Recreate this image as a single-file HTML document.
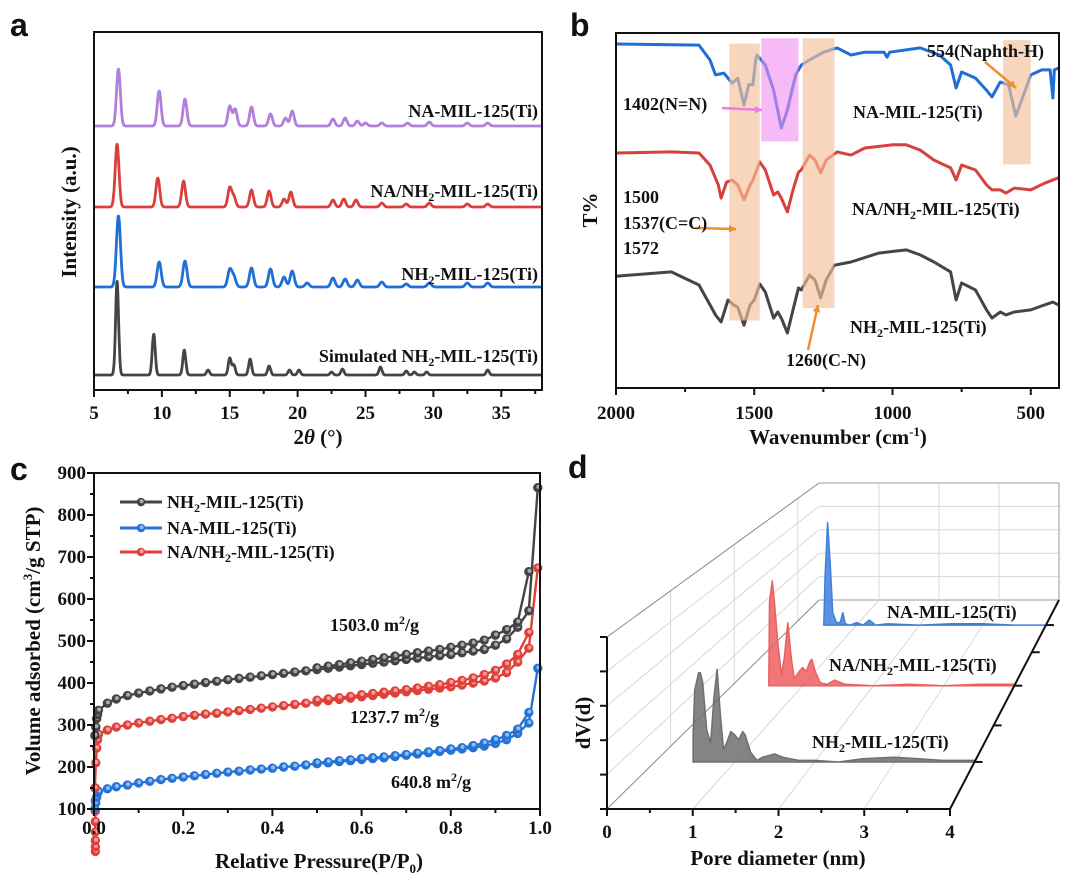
<!DOCTYPE html>
<html><head><meta charset="utf-8"><style>
html,body{margin:0;padding:0;background:#fff}
svg{display:block}
text{font-family:"Liberation Serif",serif;font-weight:bold;fill:#111}
.pl{font-family:"Liberation Sans",sans-serif;font-size:32px;font-weight:bold}
.tk{font-size:19px}
.ti{font-size:21px}
.lb{font-size:18px}
</style></head><body>
<svg id="fig" width="1080" height="878" viewBox="0 0 1080 878" xmlns="http://www.w3.org/2000/svg">
<text class="pl" x="10" y="36">a</text>
<text class="pl" x="570" y="36">b</text>
<text class="pl" x="10" y="480">c</text>
<text class="pl" x="568" y="478">d</text>
<g id="pa"></g>
<g id="pb"></g>
<g id="pc"></g>
<g id="pd"></g>
<text class="ti" transform="translate(76,212) rotate(-90)" text-anchor="middle">Intensity (a.u.)</text>
<text class="ti" x="318" y="444" text-anchor="middle">2<tspan font-style="italic">θ</tspan> (°)</text>
<text class="lb" x="538" y="117" text-anchor="end">NA-MIL-125(Ti)</text>
<text class="lb" x="538" y="197" text-anchor="end">NA/NH<tspan font-size="12" dy="4">2</tspan><tspan dy="-4">-MIL-125(Ti)</tspan></text>
<text class="lb" x="538" y="280" text-anchor="end">NH<tspan font-size="12" dy="4">2</tspan><tspan dy="-4">-MIL-125(Ti)</tspan></text>
<text class="lb" x="538" y="362" text-anchor="end">Simulated NH<tspan font-size="12" dy="4">2</tspan><tspan dy="-4">-MIL-125(Ti)</tspan></text>
<text class="ti" transform="translate(597,210) rotate(-90)" text-anchor="middle">T%</text>
<text class="ti" x="838" y="444" text-anchor="middle">Wavenumber (cm<tspan font-size="13" dy="-8">-1</tspan><tspan dy="8">)</tspan></text>
<text class="lb" x="927" y="57">554(Naphth-H)</text>
<text class="lb" x="623" y="110">1402(N=N)</text>
<text class="lb" x="853" y="118">NA-MIL-125(Ti)</text>
<text class="lb" x="852" y="215">NA/NH<tspan font-size="12" dy="4">2</tspan><tspan dy="-4">-MIL-125(Ti)</tspan></text>
<text class="lb" x="623" y="203">1500</text>
<text class="lb" x="623" y="229">1537(C=C)</text>
<text class="lb" x="623" y="254">1572</text>
<text class="lb" x="850" y="333">NH<tspan font-size="12" dy="4">2</tspan><tspan dy="-4">-MIL-125(Ti)</tspan></text>
<text class="lb" x="786" y="366">1260(C-N)</text>
<text class="ti" transform="translate(40,641) rotate(-90)" text-anchor="middle">Volume adsorbed (cm<tspan font-size="13" dy="-8">3</tspan><tspan dy="8">/g STP)</tspan></text>
<text class="ti" x="319" y="868" text-anchor="middle">Relative Pressure(P/P<tspan font-size="13" dy="5">0</tspan><tspan dy="-5">)</tspan></text>
<text class="lb" x="330" y="631">1503.0 m<tspan font-size="12" dy="-7">2</tspan><tspan dy="7">/g</tspan></text>
<text class="lb" x="350" y="723">1237.7 m<tspan font-size="12" dy="-7">2</tspan><tspan dy="7">/g</tspan></text>
<text class="lb" x="391" y="788">640.8 m<tspan font-size="12" dy="-7">2</tspan><tspan dy="7">/g</tspan></text>
<text class="lb" x="167" y="508">NH<tspan font-size="12" dy="4">2</tspan><tspan dy="-4">-MIL-125(Ti)</tspan></text>
<text class="lb" x="167" y="534">NA-MIL-125(Ti)</text>
<text class="lb" x="167" y="558">NA/NH<tspan font-size="12" dy="4">2</tspan><tspan dy="-4">-MIL-125(Ti)</tspan></text>
<text class="ti" transform="translate(590,723) rotate(-90)" text-anchor="middle">dV(d)</text>
<text class="ti" x="778" y="865" text-anchor="middle">Pore diameter (nm)</text>
<text class="lb" x="887" y="618">NA-MIL-125(Ti)</text>
<text class="lb" x="829" y="671">NA/NH<tspan font-size="12" dy="4">2</tspan><tspan dy="-4">-MIL-125(Ti)</tspan></text>
<text class="lb" x="812" y="748">NH<tspan font-size="12" dy="4">2</tspan><tspan dy="-4">-MIL-125(Ti)</tspan></text>
</svg>
<script>
// ---------- Panel a data (XRD peaks: position, height) ----------
const aPurplePos=[6.8,9.8,11.7,15.0,15.4,16.6,18.0,19.1,19.6,22.6,23.5,24.4,25.0,26.2,28.1,29.7,32.5,34.0];
const aPurpleH=[57,35,27,20,17,19,12,8,15,7,8,5,3,3,3,4,3,3];
const aRedPos=[6.7,9.7,11.6,15.0,15.3,16.6,17.9,19.0,19.5,22.6,23.4,24.3,26.2,28.0,29.7,32.5,34.0];
const aRedH=[63,29,26,19,10,17,16,8,15,7,8,7,4,3,4,3,3];
const aBluePos=[6.8,9.8,11.7,15.0,15.3,16.6,18.0,19.0,19.6,20.7,22.6,23.5,24.4,26.2,28.0,29.7,32.5,34.0];
const aBlueH=[71,25,26,17,10,19,18,10,16,4,9,8,7,5,3,4,4,4];
const aBlackPos=[6.7,9.4,11.65,13.4,15.0,15.3,16.5,17.9,19.4,20.1,22.5,23.3,26.1,28.0,28.6,29.5,34.0];
const aBlackH=[94,41,25,5,17,10,16,9,5,5,3,6,8,4,3,3,5];
const aTicks=[5,10,15,20,25,30,35];
// ---------- Panel b data (wavenumber, T%) ----------
const bBlueW=[2000,1700,1660,1640,1610,1580,1560,1537,1520,1505,1495,1490,1460,1430,1402,1380,1350,1330,1300,1250,1200,1150,1100,1030,1020,1010,900,830,790,770,750,700,660,640,610,580,554,520,500,460,430,420,415,400];
const bBlueT=[96.9,96.6,92.4,88.2,88.7,85.9,87.3,79.7,85.4,85.4,92.4,93.8,91.0,83.9,73.2,78.3,88.2,91.0,92.4,94.6,95.8,93.8,94.6,94.6,93.2,94.6,95.8,93.8,91.0,84.5,89.0,87.3,83.9,82.0,86.2,85.4,76.6,83.9,88.2,89.6,89.6,81.7,89.6,90.1];
const bRedW=[2000,1800,1700,1660,1630,1620,1600,1580,1560,1537,1515,1505,1480,1460,1430,1415,1402,1380,1360,1340,1330,1300,1280,1260,1240,1200,1150,1100,1000,950,900,850,790,770,750,700,660,640,610,590,560,500,450,400];
const bRedT=[66.2,66.5,66.2,62.8,57.2,53.5,58.0,58.6,57.2,53.0,57.2,58.6,63.7,61.4,54.4,55.2,53.5,49.6,55.8,60.8,61.4,65.6,64.2,60.6,64.2,66.5,65.6,67.6,68.5,68.5,67.0,64.2,62.0,58.6,62.8,61.4,57.2,55.8,55.8,54.9,56.3,55.8,57.7,59.2];
const bBlackW=[2000,1800,1700,1660,1640,1620,1595,1575,1560,1537,1515,1500,1480,1460,1430,1415,1402,1380,1360,1340,1330,1300,1280,1260,1240,1210,1150,1050,950,900,850,790,770,750,700,660,640,610,590,560,500,450,420,400];
const bBlackT=[31.5,32.7,29.0,23.4,20.6,18.6,24.8,23.4,22.8,17.7,23.4,24.8,29.3,27.0,19.7,21.4,19.7,15.5,22.0,28.2,27.6,31.8,30.4,25.4,30.4,34.6,35.5,38.0,38.9,37.5,35.5,32.7,24.8,29.6,27.6,22.0,19.7,21.4,20.6,21.4,22.0,23.4,24.2,23.4];
const bTicks=[2000,1500,1000,500];
const bBandFrom=[1590,1325,600,1475];
const bBandTo=[1480,1210,500,1340];
const bBandTop=[97,98.5,98,98.5];
const bBandBot=[19,22.5,63,69.5];
// ---------- Panel c data ----------
const cP=[0.002,0.004,0.006,0.008,0.01,0.03,0.05,0.075,0.1,0.125,0.15,0.175,0.2,0.225,0.25,0.275,0.3,0.325,0.35,0.375,0.4,0.425,0.45,0.475,0.5,0.525,0.55,0.575,0.6,0.625,0.65,0.675,0.7,0.725,0.75,0.775,0.8,0.825,0.85,0.875,0.9,0.925,0.95,0.975,0.995];
const cBlackAds=[275,295,315,325,335,352,362,370,376,381,386,390,394,397,401,404,408,411,414,417,420,423,426,429,432,435,438,441,444,447,450,453,456,459,462,465,468,472,476,480,490,505,533,572,865];
const cBlueAds=[100,115,128,138,142,148,153,157,162,166,170,173,176,179,182,185,188,190,193,195,197,200,202,205,208,210,213,215,218,220,222,225,228,231,234,237,240,243,246,250,256,265,280,305,435];
const cRedAds=[150,210,245,265,278,288,295,300,305,309,313,316,320,323,326,328,331,334,337,340,343,346,349,352,355,358,361,364,367,370,373,376,379,382,385,388,391,395,400,405,412,425,450,483,674];
const cRedLowP=[0.003,0.003,0.003,0.003,0.003,0.003,0.003,0.003];
const cRedLow=[-1,10,25,45,70,95,120,150];
const cDesP=[0.975,0.95,0.925,0.9,0.875,0.85,0.825,0.8,0.775,0.75,0.725,0.7,0.675,0.65,0.625,0.6,0.575,0.55,0.525,0.5];
const cBlackDes=[665,545,527,514,502,495,490,485,480,476,472,468,464,460,456,452,448,444,440,436];
const cBlueDes=[330,290,275,265,257,251,246,243,239,236,233,230,227,224,222,220,217,215,212,210];
const cRedDes=[520,468,445,430,420,412,406,401,396,392,388,384,381,378,375,372,368,365,362,359];
const cXTicks=[0,0.2,0.4,0.6,0.8,1.0];
const cXTickLabels=["0.0","0.2","0.4","0.6","0.8","1.0"];
const cYTicks=[100,200,300,400,500,600,700,800,900];
// ---------- Panel d data (pore diameter nm, dV normalized) ----------
const dGrayX=[0.48,0.5,0.55,0.57,0.6,0.65,0.7,0.74,0.78,0.82,0.86,0.9,0.95,1.0,1.05,1.1,1.13,1.2,1.28,1.35,1.5,1.6,1.7,1.8,2.0,2.3,2.6,3.0,3.3,3.6,4.0];
const dGrayY=[0.17,0.45,0.56,0.56,0.5,0.2,0.12,0.4,0.58,0.3,0.08,0.12,0.19,0.17,0.14,0.19,0.17,0.06,0.01,0.03,0.05,0.03,0.02,0.01,0.01,0.0,0.02,0.03,0.02,0.01,0.01];
const dRedX=[0.52,0.53,0.57,0.6,0.65,0.7,0.74,0.79,0.84,0.88,0.95,1.0,1.05,1.1,1.13,1.18,1.25,1.35,1.45,1.6,2.0,2.5,3.0,3.5,4.0];
const dRedY=[0,0.6,0.75,0.6,0.3,0.08,0.2,0.45,0.2,0.05,0.1,0.13,0.1,0.17,0.19,0.1,0.02,0.01,0.04,0.01,0.0,0.01,0.0,0.01,0.01];
const dBlueX=[0.48,0.5,0.54,0.58,0.62,0.68,0.74,0.78,0.82,0.9,1.0,1.1,1.2,1.3,1.5,2.0,2.5,3.0,3.5,4.0];
const dBlueY=[0,0.4,0.83,0.5,0.1,0.02,0.02,0.1,0.01,0.0,0.02,0.0,0.04,0.0,0.01,0.0,0.01,0.01,0.0,0.0];
const dDepth=[0.225,0.59,0.88];
const dXTicks=[0,1,2,3,4];

const NS="http://www.w3.org/2000/svg";
function mk(parent,tag,name,attrs){
  const el=document.createElementNS(NS,tag);
  
  
  for(const k in attrs) el.setAttribute(k,attrs[k]);
  parent.appendChild(el);return el;
}
function txt(parent,name,x,y,s,anchor){
  const t=mk(parent,'text',name,{x:x,y:y,'class':'tk','text-anchor':anchor||'middle'});
  t.textContent=s;return t;
}
// ===== Panel a =====
const pa=document.getElementById('pa');
const xA=v=>94+(v-5)*(448/33);
const aSeries=[[aPurplePos,aPurpleH,126,'#b27fdb',0.14,'a-curve-na'],[aRedPos,aRedH,207,'#d9403c',0.14,'a-curve-na-nh2'],[aBluePos,aBlueH,287,'#1f6fd6',0.15,'a-curve-nh2'],[aBlackPos,aBlackH,375,'#444',0.11,'a-curve-simulated']];
aSeries.forEach(s=>{
  let d='';
  for(let x=5;x<=38.001;x+=0.03){
    let y=s[2];
    for(let i=0;i<s[0].length;i++){const dx=(x-s[0][i])/s[4];y-=s[1][i]*Math.exp(-0.5*dx*dx);}
    d+=(d?'L':'M')+xA(x).toFixed(1)+','+y.toFixed(1);
  }
  mk(pa,'path',s[5],{d:d,fill:'none',stroke:s[3],'stroke-width':2.8,'stroke-linejoin':'round'});
});
mk(pa,'rect','a-plot-frame',{x:94,y:32,width:448,height:358,fill:'none',stroke:'#111','stroke-width':2});
for(let v=5;v<=38;v+=2.5){mk(pa,'line','a-x-tick',{x1:xA(v),x2:xA(v),y1:390,y2:aTicks.includes(v)?397:394,stroke:'#111','stroke-width':2});}
aTicks.forEach(v=>txt(pa,'a-x-tick-label',xA(v),419,String(v)));
// ===== Panel b =====
const pb=document.getElementById('pb');
const xB=w=>616+(2000-w)*0.2765;
const yB=t=>33+(100-t)*3.55;
[[bBlueW,bBlueT,'#1f6fd6','b-curve-na'],[bRedW,bRedT,'#d9403c','b-curve-na-nh2'],[bBlackW,bBlackT,'#454545','b-curve-nh2']].forEach(s=>{
  let d='';s[0].forEach((w,i)=>{d+=(i?'L':'M')+xB(w).toFixed(1)+','+yB(s[1][i]).toFixed(1);});
  mk(pb,'path',s[3],{d:d,fill:'none',stroke:s[2],'stroke-width':3,'stroke-linejoin':'round'});
});
bBandFrom.forEach((f,i)=>{
  mk(pb,'rect',i==3?'b-band-pink':'b-band-orange',{x:xB(f),y:yB(bBandTop[i]),width:xB(bBandTo[i])-xB(f),height:yB(bBandBot[i])-yB(bBandTop[i]),fill:i==3?'#f08cf0':'#f4c09a',opacity:i==3?0.6:0.65});
});
mk(pb,'rect','b-plot-frame',{x:616,y:33,width:443,height:355,fill:'none',stroke:'#111','stroke-width':2});
for(let w=2000;w>=400;w-=250){mk(pb,'line','b-x-tick',{x1:xB(w),x2:xB(w),y1:388,y2:w%500==0?395:392,stroke:'#111','stroke-width':2});}
bTicks.forEach(w=>txt(pb,'b-x-tick-label',xB(w),419,String(w)));
function arrow(p,name,x1,y1,x2,y2,c){
  mk(p,'line',name,{x1:x1,y1:y1,x2:x2,y2:y2,stroke:c,'stroke-width':2.5});
  const a=Math.atan2(y2-y1,x2-x1),L=8;
  mk(p,'path',name+'-head',{d:`M${x2},${y2}L${x2-L*Math.cos(a-0.5)},${y2-L*Math.sin(a-0.5)}L${x2-L*Math.cos(a+0.5)},${y2-L*Math.sin(a+0.5)}Z`,fill:c});
}
arrow(pb,'b-arrow-1402',722,108,762,110,'#f07ae8');
arrow(pb,'b-arrow-1537',695,228,736,229,'#ef8f2a');
arrow(pb,'b-arrow-1260',808,350,818,305,'#ef8f2a');
arrow(pb,'b-arrow-554',985,62,1016,88,'#ef8f2a');
// ===== Panel c =====
const pc=document.getElementById('pc');
const xC=p=>94+p*446;
const yC=v=>809-(v-100)*0.42;
function series(p,P,V,col,light,name){
  let d='';P.forEach((x,i)=>{d+=(i?'L':'M')+xC(x).toFixed(1)+','+yC(V[i]).toFixed(1);});
  mk(p,'path',name+'-line',{d:d,fill:'none',stroke:col,'stroke-width':2.4});
  P.forEach((x,i)=>{
    mk(p,'circle',name+'-point',{cx:xC(x),cy:yC(V[i]),r:4.3,fill:col,stroke:col,'stroke-width':0.8});
    mk(p,'circle',name+'-point-hl',{cx:xC(x)+0.6,cy:yC(V[i])-0.8,r:2,fill:light});
  });
}
series(pc,cRedLowP,cRedLow,'#e0403a','#f6a09c','c-red-low');
series(pc,cP,cBlueAds,'#2673d6','#8fbcf2','c-blue-ads');
series(pc,cDesP,cBlueDes,'#2673d6','#8fbcf2','c-blue-des');
series(pc,cP,cRedAds,'#e0403a','#f6a09c','c-red-ads');
series(pc,cDesP,cRedDes,'#e0403a','#f6a09c','c-red-des');
series(pc,cP,cBlackAds,'#444','#aaa','c-black-ads');
series(pc,cDesP,cBlackDes,'#444','#aaa','c-black-des');
mk(pc,'rect','c-plot-frame',{x:94,y:473,width:446,height:336,fill:'none',stroke:'#111','stroke-width':2});
for(let p=0;p<=1.0001;p+=0.1){mk(pc,'line','c-x-tick',{x1:xC(p),x2:xC(p),y1:809,y2:Math.round(p*10)%2==0?816:813,stroke:'#111','stroke-width':2});}
cXTicks.forEach((p,i)=>txt(pc,'c-x-tick-label',xC(p),834,cXTickLabels[i]));
for(let v=100;v<=900;v+=50){mk(pc,'line','c-y-tick',{x1:94,x2:v%100==0?87:90,y1:yC(v),y2:yC(v),stroke:'#111','stroke-width':2});}
cYTicks.forEach(v=>txt(pc,'c-y-tick-label',86,yC(v)+6,String(v),'end'));
[['#444','#aaa',502,'c-legend-line-nh2'],['#2673d6','#8fbcf2',528,'c-legend-line-na'],['#e0403a','#f6a09c',552,'c-legend-line-na-nh2']].forEach(l=>{
  mk(pc,'line',l[3],{x1:120,x2:162,y1:l[2],y2:l[2],stroke:l[0],'stroke-width':3});
  mk(pc,'circle',l[3]+'-marker',{cx:141,cy:l[2],r:4.3,fill:l[0]});
  mk(pc,'circle',l[3]+'-marker-hl',{cx:141.6,cy:l[2]-0.8,r:2,fill:l[1]});
});
// ===== Panel d =====
const pd=document.getElementById('pd');
function P3(x,v,t){
  const x0=607+212*t, w=343-103*t, base=809-209*t, h=172-55*t;
  return [x0+x/4*w, base-v*h];
}
const grid='#d8d8d8';
[0,0.2,0.4,0.6,0.8,1].forEach(v=>{const a=P3(0,v,1),b=P3(4,v,1);mk(pd,'line','d-back-grid-h',{x1:a[0],y1:a[1],x2:b[0],y2:b[1],stroke:v==0||v==1?'#999':grid,'stroke-width':1});});
[1,2,3].forEach(x=>{const a=P3(x,0,1),b=P3(x,1,1);mk(pd,'line','d-back-grid-v',{x1:a[0],y1:a[1],x2:b[0],y2:b[1],stroke:grid,'stroke-width':1});});
{const a=P3(4,0,1),b=P3(4,1,1);mk(pd,'line','d-back-edge',{x1:a[0],y1:a[1],x2:b[0],y2:b[1],stroke:'#999','stroke-width':1});}
[0.2,0.4,0.6,0.8].forEach(v=>{const a=P3(0,v,0),b=P3(0,v,1);mk(pd,'line','d-side-grid',{x1:a[0],y1:a[1],x2:b[0],y2:b[1],stroke:grid,'stroke-width':1});});
[1,2,3].forEach(x=>{const a=P3(x,0,0),b=P3(x,0,1);mk(pd,'line','d-floor-grid',{x1:a[0],y1:a[1],x2:b[0],y2:b[1],stroke:grid,'stroke-width':1});});
[0.3,0.6,0.9].forEach(t=>{const a=P3(0,0,t),b=P3(0,1,t);mk(pd,'line','d-side-grid-v',{x1:a[0],y1:a[1],x2:b[0],y2:b[1],stroke:grid,'stroke-width':1});});
{const a=P3(0,1,0),b=P3(0,1,1);mk(pd,'line','d-top-left-edge',{x1:a[0],y1:a[1],x2:b[0],y2:b[1],stroke:'#888','stroke-width':1});}
{const a=P3(0,0,0),b=P3(0,0,1);mk(pd,'line','d-bottom-left-edge',{x1:a[0],y1:a[1],x2:b[0],y2:b[1],stroke:'#888','stroke-width':1});}
[[dBlueX,dBlueY,dDepth[2],'#3f7fdc','d-area-na'],[dRedX,dRedY,dDepth[1],'#ec5f60','d-area-na-nh2'],[dGrayX,dGrayY,dDepth[0],'#6f6f6f','d-area-nh2']].forEach(s=>{
  const t=s[2];let d='';
  const s0=P3(s[0][0],0,t);d='M'+s0[0]+','+s0[1];
  s[0].forEach((x,i)=>{const q=P3(x,s[1][i],t);d+='L'+q[0].toFixed(1)+','+q[1].toFixed(1);});
  const e=P3(s[0][s[0].length-1],0,t);d+='L'+e[0]+','+e[1]+'Z';
  mk(pd,'path',s[4],{d:d,fill:s[3],'fill-opacity':0.85,stroke:s[3],'stroke-width':1.5,'stroke-linejoin':'round'});
});
mk(pd,'line','d-x-axis',{x1:607,y1:809,x2:950,y2:809,stroke:'#111','stroke-width':2});
mk(pd,'line','d-y-axis',{x1:607,y1:809,x2:607,y2:637,stroke:'#111','stroke-width':2});
{const a=P3(4,0,0),b=P3(4,0,1);mk(pd,'line','d-z-axis',{x1:a[0],y1:a[1],x2:b[0],y2:b[1],stroke:'#111','stroke-width':2});}
for(let x=0;x<=4;x+=0.5){const q=P3(x,0,0);mk(pd,'line','d-x-tick',{x1:q[0],x2:q[0],y1:809,y2:x%1==0?816:813,stroke:'#111','stroke-width':2});}
dXTicks.forEach(x=>txt(pd,'d-x-tick-label',P3(x,0,0)[0],838,String(x)));
[0,0.2,0.4,0.6,0.8,1].forEach(v=>{const q=P3(0,v,0);mk(pd,'line','d-y-tick',{x1:607,x2:600,y1:q[1],y2:q[1],stroke:'#111','stroke-width':2});});
[0.225,0.4,0.59,0.75,0.88].forEach(t=>{const q=P3(4,0,t);mk(pd,'line','d-z-tick',{x1:q[0],x2:q[0]+8,y1:q[1],y2:q[1],stroke:'#111','stroke-width':2});});
</script>
</body></html>
